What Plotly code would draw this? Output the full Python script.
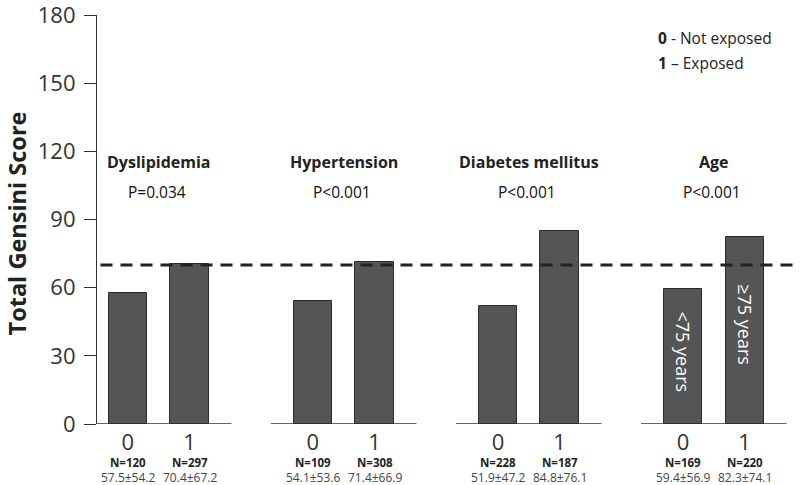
import plotly.graph_objects as go

# ---- data ----
groups = ["Dyslipidemia", "Hypertension", "Diabetes mellitus", "Age"]
p_values = ["P=0.034", "P<0.001", "P<0.001", "P<0.001"]
exposure_labels = ["0", "1"]
mean_not_exposed = [57.5, 54.1, 51.9, 59.4]
mean_exposed = [70.4, 71.4, 84.8, 82.3]
sd_not_exposed = [54.2, 53.6, 47.2, 56.9]
sd_exposed = [67.2, 66.9, 76.1, 74.1]
n_not_exposed = [120, 109, 228, 169]
n_exposed = [297, 308, 187, 220]
age_bar_labels = ["<75 years", "≥75 years"]
reference_value = 70
y_ticks = [0, 30, 60, 90, 120, 150, 180]
y_title = "Total Gensini Score"

FONT = "Open Sans"
STRIDE = 3  # x-units between groups

xs, ys, tick_text, ns, stats = [], [], [], [], []
for g in range(len(groups)):
    for i, (m, sd, n) in enumerate([(mean_not_exposed[g], sd_not_exposed[g], n_not_exposed[g]),
                                    (mean_exposed[g], sd_exposed[g], n_exposed[g])]):
        xs.append(STRIDE * g + i)
        ys.append(m)
        tick_text.append(exposure_labels[i])
        ns.append(n)
        stats.append(f"{m:.1f}±{sd:.1f}")

fig = go.Figure()
fig.add_trace(go.Bar(
    x=xs, y=ys, width=0.62,
    marker=dict(color="#555555", line=dict(color="#2b2b2b", width=1)),
    hoverinfo="skip", showlegend=False,
))

annotations = []
# y-axis title
annotations.append(dict(x=-0.115, y=0.49, xref="paper", yref="paper", xanchor="center", yanchor="middle",
                        text=f"<b>{y_title}</b>", textangle=-90, showarrow=False,
                        font=dict(family=FONT, size=23.5, color="#222")))
# group titles and p-values
for g, (name, p) in enumerate(zip(groups, p_values)):
    cx = STRIDE * g + 0.5
    annotations.append(dict(x=cx, y=115.3, xref="x", yref="y", text=f"<b>{name}</b>",
                            showarrow=False, font=dict(family=FONT, size=16, color="#222")))
    annotations.append(dict(x=cx - 0.03, y=102, xref="x", yref="y", text=p,
                            showarrow=False, font=dict(family=FONT, size=15.5, color="#111")))

# N and mean±sd under each bar
for x, n, s in zip(xs, ns, stats):
    annotations.append(dict(x=x, y=0, xref="x", yref="paper", yanchor="middle", yshift=-38,
                            text=f"<b>N={n}</b>", showarrow=False,
                            font=dict(family=FONT, size=11.5, color="#222")))
    annotations.append(dict(x=x, y=0, xref="x", yref="paper", yanchor="middle", yshift=-53,
                            text=s, showarrow=False,
                            font=dict(family=FONT, size=12, color="#444")))

# rotated labels inside the age bars
age_g = len(groups) - 1
for i, lab in enumerate(age_bar_labels):
    x = STRIDE * age_g + i
    h = [mean_not_exposed, mean_exposed][i][age_g]
    annotations.append(dict(x=x, y=h * 0.53, xref="x", yref="y", text=lab, textangle=90,
                            showarrow=False, font=dict(family=FONT, size=18, color="white")))

# legend text
annotations.append(dict(x=8.57, y=170, xref="x", yref="y", xanchor="left", text="<b>0</b> - Not exposed",
                        showarrow=False, font=dict(family=FONT, size=15.5, color="#222")))
annotations.append(dict(x=8.57, y=159, xref="x", yref="y", xanchor="left", text="<b>1</b> – Exposed",
                        showarrow=False, font=dict(family=FONT, size=15.5, color="#222")))

shapes = []
# per-group baselines
for g in range(len(groups)):
    shapes.append(dict(type="line", xref="x", yref="y",
                       x0=max(STRIDE * g - 0.68, -0.5), x1=STRIDE * g + 1.68, y0=0, y1=0,
                       line=dict(color="#333", width=1.5)))
# reference line
shapes.append(dict(type="line", xref="paper", yref="y", x0=0.005, x1=1, y0=reference_value, y1=reference_value,
                   line=dict(color="#222", width=3, dash="12px,8px")))

fig.update_layout(
    width=800, height=485,
    margin=dict(l=97, r=6, t=15, b=61),
    plot_bgcolor="white", paper_bgcolor="white",
    annotations=annotations, shapes=shapes,
    bargap=0,
    xaxis=dict(range=[-0.5, 10.8], tickmode="array", tickvals=xs, ticktext=tick_text,
               ticks="", showline=False, showgrid=False, zeroline=False, automargin=False,
               ticklabelstandoff=3,
               tickfont=dict(family=FONT, size=22, color="#333")),
    yaxis=dict(range=[0, 180], tickvals=y_ticks, ticks="outside", ticklen=12, tickcolor="#333",
               tickwidth=1.2, showline=True, linecolor="#333", linewidth=1.2, showgrid=False,
               zeroline=False, automargin=False, ticklabelstandoff=4, ticklabeloverflow="allow",
               tickfont=dict(family=FONT, size=22, color="#333")),
)

# remove the browser's default 8px body margin so the figure sits at the page origin
fig.write_html("out.html", config={"displayModeBar": False},
               post_script="document.body.style.margin='0';")
